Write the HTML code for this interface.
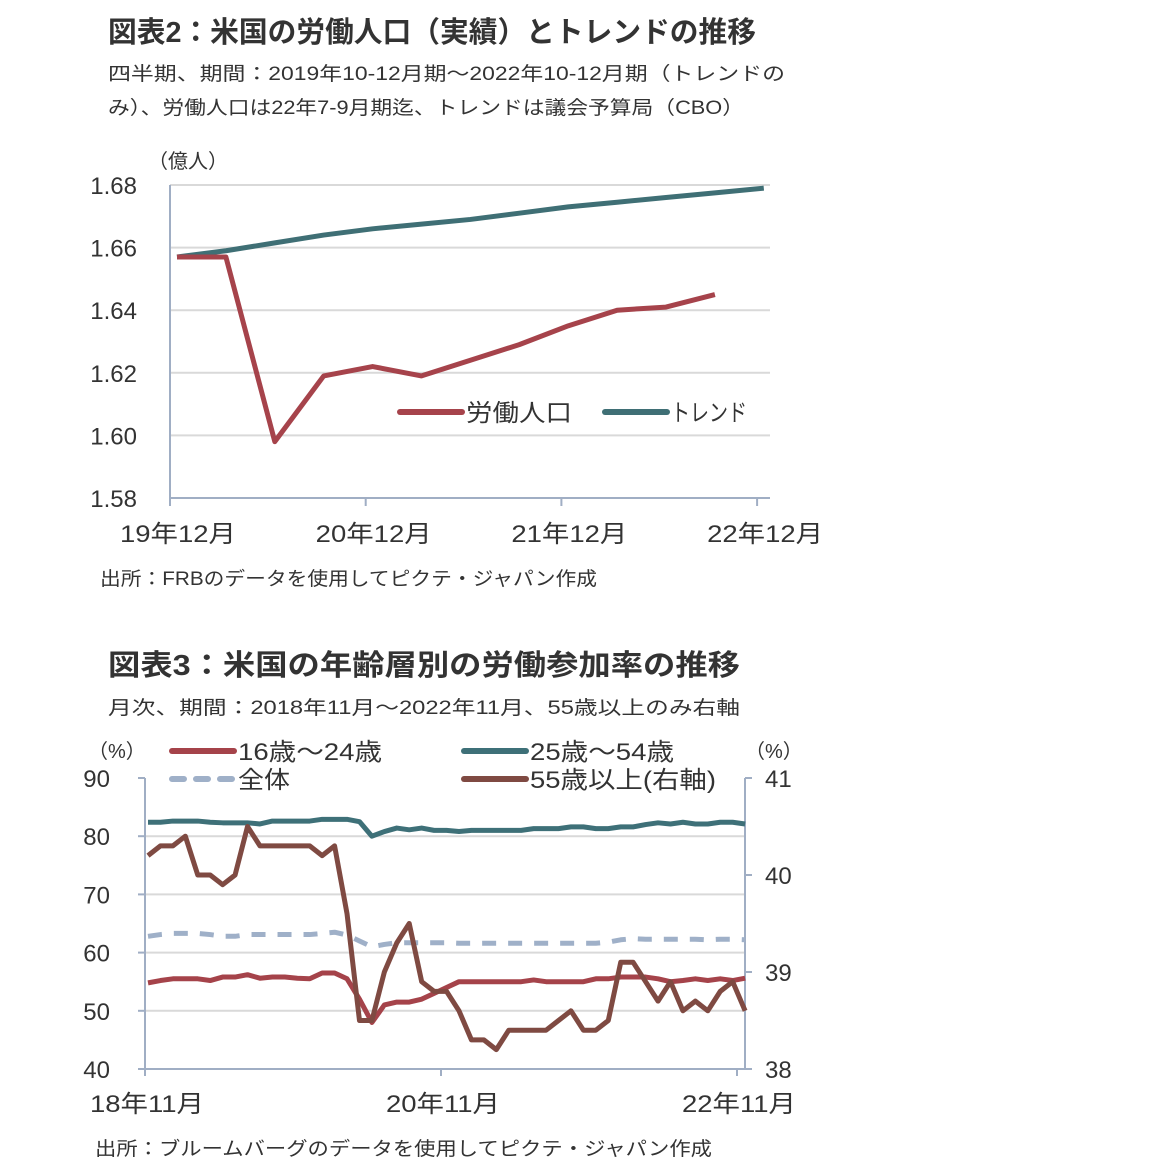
<!DOCTYPE html>
<html><head><meta charset="utf-8"><style>
body{margin:0;background:#fff;}
svg{display:block;font-family:"Liberation Sans","Noto Sans CJK JP",sans-serif;}
</style></head><body>
<svg id="s" width="1152" height="1172" viewBox="0 0 1152 1172">
<text x="108" y="42" font-size="29" font-weight="bold" fill="#333" textLength="648" lengthAdjust="spacingAndGlyphs">図表2：米国の労働人口（実績）とトレンドの推移</text>
<text x="108" y="80" font-size="19" fill="#333" textLength="677" lengthAdjust="spacingAndGlyphs">四半期、期間：2019年10-12月期～2022年10-12月期（トレンドの</text>
<text x="108" y="114" font-size="19" fill="#333" textLength="636" lengthAdjust="spacingAndGlyphs">み）、労働人口は22年7-9月期迄、トレンドは議会予算局（CBO）</text>
<text x="148" y="168" font-size="20" fill="#333">（億人）</text>
<g id="c1"></g>
<text x="100" y="585" font-size="19" fill="#333" textLength="497" lengthAdjust="spacingAndGlyphs">出所：FRBのデータを使用してピクテ・ジャパン作成</text>

<text x="108" y="675" font-size="29" font-weight="bold" fill="#333" textLength="632" lengthAdjust="spacingAndGlyphs">図表3：米国の年齢層別の労働参加率の推移</text>
<text x="108" y="714" font-size="19" fill="#333" textLength="632" lengthAdjust="spacingAndGlyphs">月次、期間：2018年11月～2022年11月、55歳以上のみ右軸</text>
<text x="88" y="758" font-size="20" fill="#333">（%）</text>
<text x="745" y="758" font-size="20" fill="#333">（%）</text>
<g id="c2"></g>
<text x="95" y="1155" font-size="19" fill="#333" textLength="617" lengthAdjust="spacingAndGlyphs">出所：ブルームバーグのデータを使用してピクテ・ジャパン作成</text>
</svg>
<script>
// Chart 1 data
const c1Ticks=[1.58,1.60,1.62,1.64,1.66,1.68];
const c1XLabels=["19年12月","20年12月","21年12月","22年12月"];
const labor=[1.657,1.657,1.598,1.619,1.622,1.619,1.624,1.629,1.635,1.640,1.641,1.645];
const trend=[1.657,1.659,1.6615,1.664,1.666,1.6675,1.669,1.671,1.673,1.6745,1.676,1.6775,1.679];
// Chart 2 data
const c2LeftTicks=[40,50,60,70,80,90];
const c2RightTicks=[38,39,40,41];
const c2XLabels=["18年11月","20年11月","22年11月"];
const age1624=[54.8,55.2,55.5,55.5,55.5,55.2,55.8,55.8,56.2,55.6,55.8,55.8,55.6,55.5,56.5,56.5,55.5,52,48,51,51.5,51.5,52,53,54,55,55,55,55,55,55,55.3,55,55,55,55,55.5,55.5,55.8,55.8,55.8,55.5,55,55.2,55.5,55.2,55.5,55.2,55.6];
const age2554=[82.4,82.4,82.6,82.6,82.6,82.4,82.3,82.3,82.3,82.1,82.6,82.6,82.6,82.6,82.9,82.9,82.9,82.5,80,80.8,81.4,81.1,81.4,81,81,80.8,81,81,81,81,81,81.3,81.3,81.3,81.6,81.6,81.3,81.3,81.6,81.6,82,82.3,82.1,82.4,82.1,82.1,82.4,82.4,82.1];
const overall=[62.8,63.1,63.3,63.3,63.3,63.1,62.8,62.8,63.1,63.1,63.1,63.1,63.1,63.1,63.3,63.5,63,62,61,61.4,61.7,61.7,61.7,61.7,61.7,61.6,61.6,61.6,61.6,61.6,61.6,61.6,61.6,61.6,61.6,61.6,61.6,61.8,62.2,62.4,62.3,62.3,62.3,62.3,62.3,62.2,62.3,62.3,62.2];
const age55=[40.2,40.3,40.3,40.4,40.0,40.0,39.9,40.0,40.5,40.3,40.3,40.3,40.3,40.3,40.2,40.3,39.6,38.5,38.5,39.0,39.3,39.5,38.9,38.8,38.8,38.6,38.3,38.3,38.2,38.4,38.4,38.4,38.4,38.5,38.6,38.4,38.4,38.5,39.1,39.1,38.9,38.7,38.9,38.6,38.7,38.6,38.8,38.9,38.6];

const NS="http://www.w3.org/2000/svg";
function mk(parent,tag,attrs){const e=document.createElementNS(NS,tag);for(const k in attrs)e.setAttribute(k,attrs[k]);parent.appendChild(e);return e;}

// ---- Chart 1 ----
const g1=document.getElementById('c1');
const y1=v=>498-(v-1.58)/0.10*313;
const x1=i=>177+i*48.9;
c1Ticks.forEach(t=>{
  if(t>1.58){const l=mk(g1,'line',{x1:170,x2:770,y1:y1(t),y2:y1(t),stroke:'#d9d9d9','stroke-width':2});
  
  }
  const tx=mk(g1,'text',{x:137,y:y1(t)+9,'font-size':24,fill:'#333','text-anchor':'end'});tx.textContent=t.toFixed(2);
  
  
});
let ax=mk(g1,'line',{x1:170,x2:170,y1:185,y2:498,stroke:'#a0aec4','stroke-width':2});


ax=mk(g1,'line',{x1:170,x2:770,y1:498,y2:498,stroke:'#a0aec4','stroke-width':2});


c1XLabels.forEach((s,i)=>{
  const xx=170+i*195.7;
  mk(g1,'line',{x1:xx,x2:xx,y1:498,y2:506,stroke:'#a0aec4','stroke-width':2});
  const tx=mk(g1,'text',{x:xx+8,y:542,'font-size':24,fill:'#333','text-anchor':'middle',textLength:116,lengthAdjust:'spacingAndGlyphs'});tx.textContent=s;
  
  
});
function line(g,arr,xf,yf,color,w,name,dash){
  const p=mk(g,'polyline',{points:arr.map((v,i)=>xf(i)+','+yf(v)).join(' '),fill:'none',stroke:color,'stroke-width':w,'stroke-linejoin':'round'});
  if(dash)p.setAttribute('stroke-dasharray',dash);
  
  
}
line(g1,trend,x1,y1,'#3f6f75',5,'trend-line');
line(g1,labor,x1,y1,'#a6434b',5,'labor-force-line');
function legend(g,x,y,color,label,name,dash,len){
  const l=mk(g,'line',{x1:x,x2:x+62,y1:y,y2:y,stroke:color,'stroke-width':6,'stroke-linecap':'round'});
  if(dash)l.setAttribute('stroke-dasharray',dash);
  
  
  const t=mk(g,'text',{x:x+66,y:y+9,'font-size':24,fill:'#333'});t.textContent=label;
  if(len){t.setAttribute('textLength',len);t.setAttribute('lengthAdjust','spacingAndGlyphs');}
  
  
}
legend(g1,400,412,'#a6434b','労働人口','legend-labor-force',null,106);
legend(g1,605,412,'#3f6f75','トレンド','legend-trend',null,76);

// ---- Chart 2 ----
const g2=document.getElementById('c2');
const yl=v=>1069-(v-40)/50*291;
const yr=v=>1069-(v-38)/3*291;
const x2=i=>148+i*12.44;
c2LeftTicks.forEach(t=>{
  if(t>40&&t<90){const l=mk(g2,'line',{x1:145,x2:745,y1:yl(t),y2:yl(t),stroke:'#d9d9d9','stroke-width':2});
  
  }
  const tx=mk(g2,'text',{x:110,y:yl(t)+9,'font-size':24,fill:'#333','text-anchor':'end'});tx.textContent=t;
  
  
  mk(g2,'line',{x1:138,x2:145,y1:yl(t),y2:yl(t),stroke:'#a0aec4','stroke-width':2});
});
c2RightTicks.forEach(t=>{
  const tx=mk(g2,'text',{x:765,y:yr(t)+9,'font-size':24,fill:'#333'});tx.textContent=t;
  
  
  mk(g2,'line',{x1:745,x2:752,y1:yr(t),y2:yr(t),stroke:'#a0aec4','stroke-width':2});
});
ax=mk(g2,'line',{x1:145,x2:145,y1:778,y2:1069,stroke:'#a0aec4','stroke-width':2});


ax=mk(g2,'line',{x1:745,x2:745,y1:778,y2:1069,stroke:'#a0aec4','stroke-width':2});


ax=mk(g2,'line',{x1:145,x2:745,y1:1069,y2:1069,stroke:'#a0aec4','stroke-width':2});


c2XLabels.forEach((s,i)=>{
  const xx=145+i*296;
  mk(g2,'line',{x1:xx,x2:xx,y1:1069,y2:1076,stroke:'#a0aec4','stroke-width':2});
  const tx=mk(g2,'text',{x:xx+2,y:1112,'font-size':24,fill:'#333','text-anchor':'middle',textLength:114,lengthAdjust:'spacingAndGlyphs'});tx.textContent=s;
  
  
});
line(g2,age2554,x2,yl,'#3e7078',5,'age-25-54-line');
line(g2,overall,x2,yl,'#9fb0c8',5,'overall-line','14 12');
line(g2,age1624,x2,yl,'#a5434a',5,'age-16-24-line');
line(g2,age55,x2,yr,'#7f4a42',5,'age-55-plus-line');
legend(g2,172,751,'#a5434a','16歳～24歳','legend-16-24',null,144);
legend(g2,464,751,'#3e7078','25歳～54歳','legend-25-54',null,144);
legend(g2,172,779,'#9fb0c8','全体','legend-overall','12 12',52);
legend(g2,464,779,'#7f4a42','55歳以上(右軸)','legend-55-plus',null,186);
</script>
</body></html>
